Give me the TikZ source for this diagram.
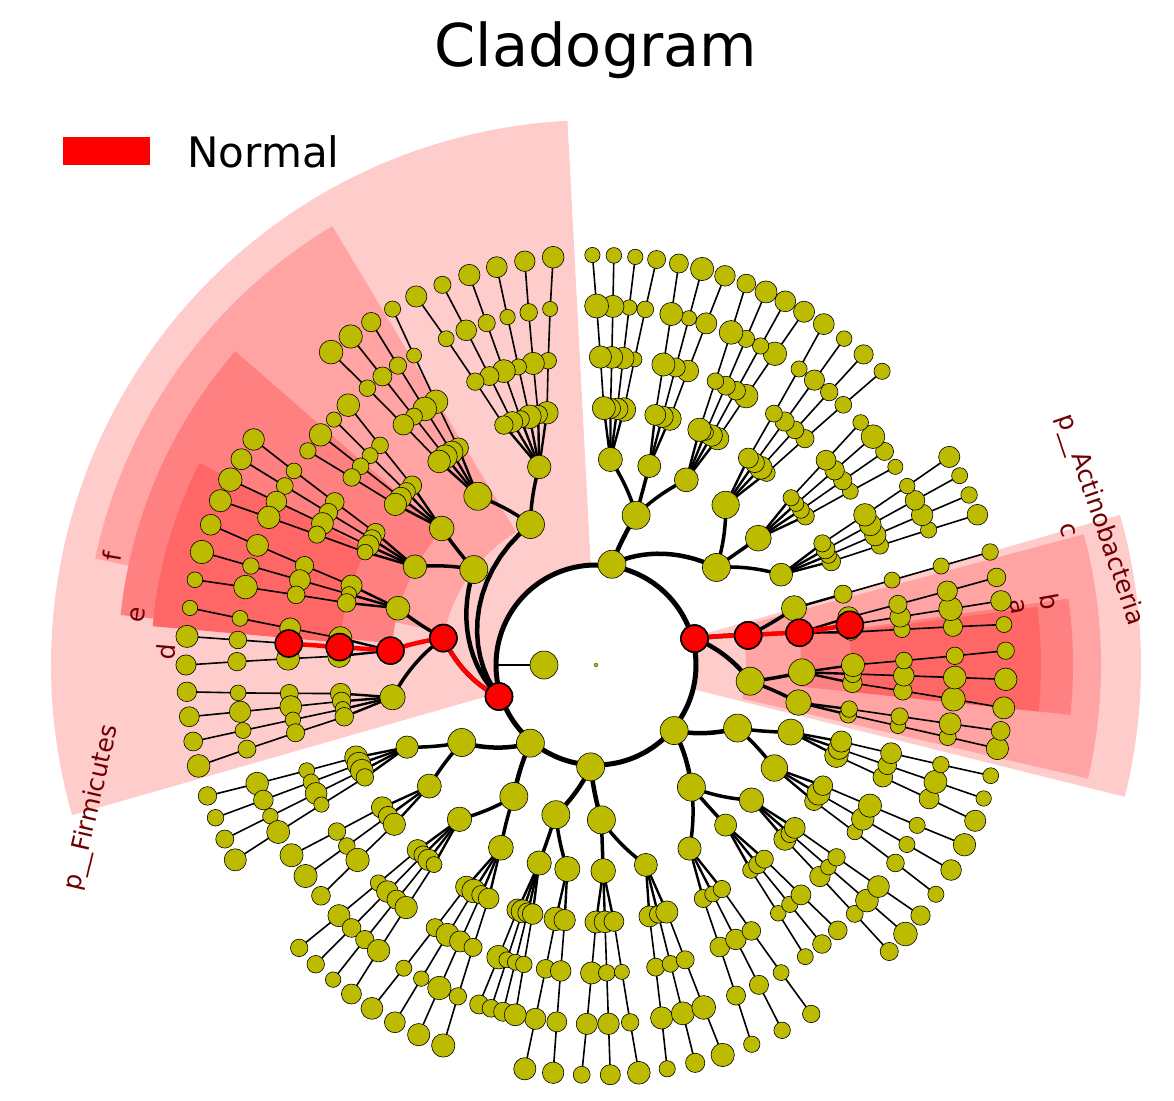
\documentclass[tikz,border=0pt]{standalone}
\usepackage{fontspec}
\setmainfont{DejaVu Sans}
\definecolor{ylw}{RGB}{189,187,0}
\definecolor{sh1}{RGB}{255,204,204}
\definecolor{sh2}{RGB}{255,163,163}
\definecolor{sh3}{RGB}{255,128,128}
\definecolor{sh4}{RGB}{255,102,102}
\definecolor{lab}{RGB}{110,0,0}
\newcommand\spirl[5]{\draw[#5] plot[domain=0:1,samples=16,variable=\t] ({#1+(#3-#1)*\t}:{#2+(#4-#2)*\t});}
\newcommand\sect[5]{\fill[#5] (#1:#3pt) arc[start angle=#1,end angle=#2,radius=#3pt] -- (#2:#4pt) arc[start angle=#2,end angle=#1,radius=#4pt] -- cycle;}
\newcommand\phyla{P1/15,P2/81,P3/198,P4/230,P5/267,P6/-40}
\newcommand\classes{cC/15/11,cY/15/-6,cA/81/75,cB/81/39,cF/198/170,cG/198/142,cH/198/115,cI/230/238,cJ/230/210,cK/267/272,cL/267/255,cM/-40/-24,cN/-40/-52}
\newcommand\orders{oB/11/4/14/3/7, o2/11/14/18/1/7, o3/-6/-13/-8/2/7, o4/-6/-8/4/3/7,
 o5/75/58/70/4/7, o6/75/70/80/3/7, o7/75/80/92/4/7,
 o8/39/20/32/4/7, o9/39/32/44/4/6, o10/39/44/58/4/7,
 oE/170/170/182/3/7, o12/170/182/196/4/7, o13/170/158/170/3/7,
 o14/142/145/158/4/7, o15/142/132/145/4/6,
 o16/115/118/132/4/7, o17/115/94/118/6/7,
 o18/238/235/250/4/7, o19/238/222/235/4/7,
 o20/210/210/222/3/6, o21/210/197/210/4/7,
 o22/272/278/290/3/7, o23/272/266/278/3/7,
 o24/255/258/266/2/7, o25/255/250/258/4/6,
 o26/-24/-24/-14/3/7, o27/-24/-36/-24/3/7,
 o28/-52/-46/-36/3/7, o29/-52/-56/-46/3/6, o30/-52/-70/-56/3/7}
\tikzset{
 lf/.style={circle,draw=black,line width=0.6pt,fill=ylw,inner sep=0pt},
 phy/.style={lf,minimum size=28pt},
 rn/.style={circle,draw=black,line width=1.6pt,fill=red,inner sep=0pt,minimum size=27pt},
 eC/.style={line width=4.5pt,black},
 eO/.style={line width=3.5pt,black},
 redE/.style={line width=4.5pt,red},
 lbl/.style={text=lab,inner sep=0pt,font=\fontsize{25}{27}\selectfont},
 biglbl/.style={text=lab,inner sep=0pt,font=\fontsize{25}{27}\selectfont}
}
\begin{document}
\begin{tikzpicture}[x=1pt,y=1pt]
\useasboundingbox (-596,-435) rectangle (578,665);
\pgfmathsetseed{7}
% shading
\sect{93}{196}{100}{545}{sh1}
\sect{121}{168}{155}{512}{sh2}
\sect{139}{174}{205}{478}{sh3}
\sect{153}{175}{257}{445}{sh4}
\sect{-14}{16}{100}{545}{sh1}
\sect{-13}{15}{150}{505}{sh2}
\sect{-6}{8}{205}{477}{sh3}
\sect{-6}{7.5}{255}{445}{sh4}
% title and legend
\node[font=\fontsize{59}{62}\selectfont] (title) at (0,615) {Cladogram};
\fill[red] (-533,500) rectangle (-446,528);
\node[font=\fontsize{42}{44}\selectfont,anchor=west] (leg) at (-412,513) {Normal};
% labels
\node[biglbl,rotate=77] (lFir) at (-504,-143) {p\_\_Firmicutes};
\node[biglbl,rotate=-71] (lAct) at (504,145) {p\_\_Actinobacteria};
\node[lbl,rotate=80] (lf) at (-484,108) {f};
\node[lbl,rotate=82] (le) at (-458,50) {e};
\node[lbl,rotate=85] (ld) at (-430,13) {d};
\node[lbl,rotate=-75] (lc) at (472,135) {c};
\node[lbl,rotate=-80] (lb) at (454,63) {b};
\node[lbl,rotate=-80] (la) at (422,58) {a};
% ---- pass 1: coordinates and edges
\draw[line width=5pt] (0,0) circle (100pt);
\coordinate (ringW) at (180:100);
\coordinate (P7) at (180:52);
\draw[line width=1.6pt] (ringW) -- (P7);
\foreach \id/\a in \phyla \coordinate (\id) at (\a:102);
\foreach \id/\pa/\a in \classes {
  \coordinate (\id) at (\a:155);
  \spirl{\pa}{102}{\a}{155}{eC}
}
\foreach \o/\ca/\lo/\hi/\m/\d in \orders {
  \pgfmathsetmacro\oa{(\lo+\hi)/2}
  \coordinate (\o) at (\oa:206);
  \spirl{\ca}{155}{\oa}{206}{eO}
  \foreach \j in {1,...,\m}{
    \pgfmathsetmacro\th{\lo+(\j-0.5)*(\hi-\lo)/\m}
    \foreach \L in {4,...,\d}{
      \pgfmathsetmacro\ang{\oa+(\th-\oa)*sqrt((\L-3)/(\d-3))}
      \pgfmathsetmacro\rr{206+51*(\L-3)}
      \pgfmathtruncatemacro\Lp{\L-1}
      \coordinate (\o-\j-\L) at (\ang:\rr);
      \ifnum\L=4 \edef\prev{\o}\def\ew{2.4pt}\else\edef\prev{\o-\j-\Lp}\def\ew{1.6pt}\fi
      \draw[line width=\ew] (\prev) -- (\o-\j-\L);
    }
  }
}
% red highlighted path
\spirl{198}{102}{170}{155}{redE}
\spirl{170}{155}{176}{206}{redE}
\draw[redE] (oE) -- (oE-2-4) -- (oE-2-5);
\spirl{15}{102}{11}{155}{redE}
\spirl{11}{155}{9}{206}{redE}
\draw[redE] (oB) -- (oB-2-4);
% ---- pass 2: nodes
\node[lf,minimum size=4pt,line width=0.2pt] (root) at (0,0) {};
\node[phy] (nP7) at (P7) {};
\foreach \id/\a in \phyla \node[phy] (n\id) at (\id) {};
\foreach \id/\pa/\a in \classes \node[phy] (n\id) at (\id) {};
\foreach \o/\ca/\lo/\hi/\m/\d in \orders {
  \pgfmathsetmacro\osz{22+6*rnd}
  \node[lf,minimum size=\osz pt] (n\o) at (\o) {};
  \foreach \j in {1,...,\m}{
    \foreach \L in {4,...,\d}{
      \pgfmathsetmacro\sz{15+9*rnd}
      \node[lf,minimum size=\sz pt] (n\o-\j-\L) at (\o-\j-\L) {};
    }
  }
}
\node[rn] (rP3) at (P3) {};
\node[rn] (rcF) at (cF) {};
\node[rn] (roE) at (oE) {};
\node[rn] (rE4) at (oE-2-4) {};
\node[rn] (rE5) at (oE-2-5) {};
\node[rn] (rP1) at (P1) {};
\node[rn] (rcC) at (cC) {};
\node[rn] (roB) at (oB) {};
\node[rn] (rB4) at (oB-2-4) {};
\end{tikzpicture}
\end{document}
